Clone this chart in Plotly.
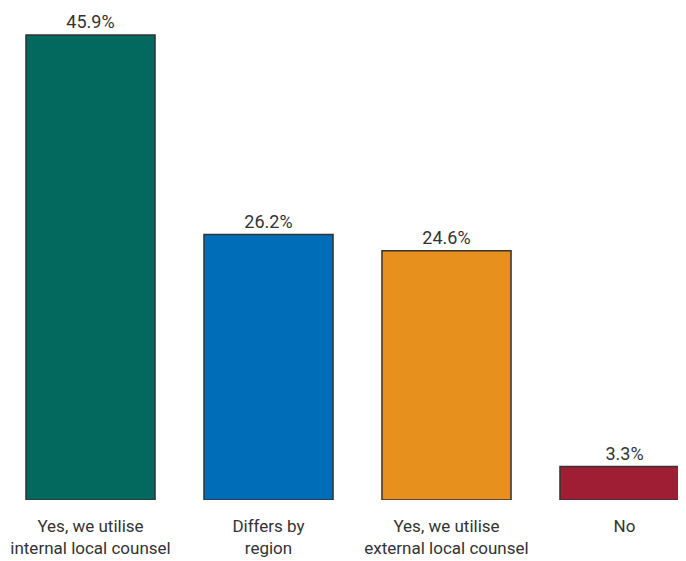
import plotly.graph_objects as go

categories = ["Yes, we utilise<br>internal local counsel", "Differs by<br>region",
              "Yes, we utilise<br>external local counsel", "No"]
values = [45.9, 26.2, 24.6, 3.3]
labels = ["45.9%", "26.2%", "24.6%", "3.3%"]
colors = ["#03685E", "#006DB8", "#E8901E", "#A01E34"]

fig = go.Figure(go.Bar(
    x=list(range(len(categories))), y=values,
    marker=dict(color=colors, line=dict(color="#333333", width=1.5)),
    width=0.725,
    text=labels, textposition="outside",
    textfont=dict(size=18, color="#333333", family="Roboto"),
    cliponaxis=False,
))

fig.update_layout(
    width=678, height=553,
    margin=dict(l=0, r=0, t=0, b=61),
    plot_bgcolor="white", paper_bgcolor="white",
    showlegend=False,
    font=dict(family="Roboto", size=17, color="#333333"),
    xaxis=dict(range=[-0.4635, 3.3455], tickmode="array",
               tickvals=list(range(len(categories))), ticktext=categories,
               showgrid=False, zeroline=False, showline=False, ticks="",
               ticklabeloverflow="allow", ticklabelstandoff=14,
               tickfont=dict(size=17, color="#333333")),
    yaxis=dict(range=[0, 48.57], visible=False),
)

fig.write_html("out.html")
